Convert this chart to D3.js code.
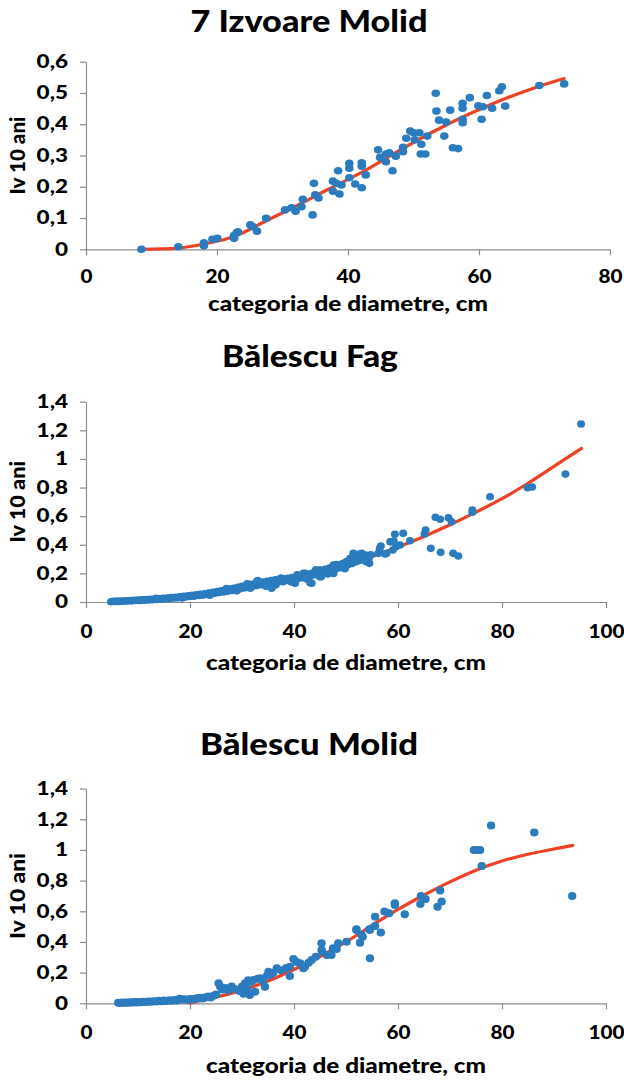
<!DOCTYPE html>
<html>
<head>
<meta charset="utf-8">
<script src="https://cdn.jsdelivr.net/npm/d3@7"></script>
<style>
  body { margin: 0; background: #fff; }
  text { font-family: Lato, "Open Sans", sans-serif; font-weight: 900; fill: #000; }
</style>
</head>
<body>
<svg id="chart" width="624" height="1082"></svg>
<script>
// ---- Tick values ----
const xTicksIzvoare = [0, 20, 40, 60, 80];
const yTicksIzvoare = [0, 0.1, 0.2, 0.3, 0.4, 0.5, 0.6];
const xTicksBalescu = [0, 20, 40, 60, 80, 100];
const yTicksBalescu = [0, 0.2, 0.4, 0.6, 0.8, 1, 1.2, 1.4];

// ---- 7 Izvoare Molid: [diameter class cm, Iv 10 years] ----
const izvoareMolidPoints = [
  [8.45,0.000],[14.1,0.008],[18.0,0.021],[18.0,0.011],[19.3,0.032],[20.05,0.035],[22.6,0.035],[22.6,0.044],
  [23.0,0.053],[23.2,0.056],[25.1,0.078],[25.5,0.072],[26.1,0.058],[27.5,0.099],[30.4,0.126],[31.4,0.133],
  [32.0,0.122],[32.9,0.136],[33.1,0.160],[34.6,0.110],[34.8,0.211],[35.0,0.174],[35.5,0.164],[37.7,0.186],
  [37.7,0.218],[38.2,0.211],[38.5,0.251],[38.7,0.177],[39.0,0.206],[40.2,0.275],[40.2,0.259],[40.2,0.229],
  [41.1,0.209],[42.1,0.277],[42.1,0.197],[42.1,0.266],[42.7,0.238],[44.6,0.318],[44.9,0.294],[45.8,0.305],
  [45.8,0.280],[46.3,0.309],[46.8,0.251],[47.3,0.298],[48.4,0.312],[48.4,0.326],[48.9,0.355],[49.5,0.378],
  [50.0,0.373],[50.2,0.350],[50.9,0.373],[51.2,0.336],[51.1,0.305],[51.8,0.305],[52.1,0.362],[53.4,0.499],
  [53.5,0.442],[53.9,0.413],[54.7,0.362],[55.0,0.407],[55.6,0.445],[56.0,0.325],[56.8,0.322],[57.5,0.467],
  [57.5,0.451],[57.5,0.416],[57.5,0.405],[58.6,0.485],[59.9,0.459],[60.4,0.416],[60.6,0.456],[61.2,0.492],
  [62.0,0.451],[63.1,0.507],[63.5,0.520],[64.0,0.458],[69.2,0.524],[73.0,0.529]
];
const izvoareMolidTrend = [
  [8.5,0.000],[14,0.004],[18,0.017],[22.5,0.040],[27.6,0.092],[32.7,0.145],[37,0.192],[42.8,0.254],
  [48,0.318],[53,0.376],[58,0.428],[63.2,0.475],[68,0.513],[73,0.546]
];

// ---- Bălescu Fag ----
const balescuFagPoints = [
  [4.8,0.002],[5.2,0.005],[5.6,0.003],[6.0,0.006],[6.4,0.004],[6.8,0.007],[7.2,0.005],[7.6,0.009],
  [8.0,0.007],[8.4,0.010],[8.8,0.008],[9.2,0.012],[9.6,0.010],[10.0,0.014],[10.4,0.011],[10.8,0.015],
  [11.2,0.013],[11.6,0.017],[12.0,0.014],[12.4,0.019],[12.8,0.016],[13.2,0.021],[13.6,0.018],[14.0,0.023],
  [14.4,0.020],[14.8,0.026],[15.2,0.022],[15.6,0.028],[16.0,0.025],[16.4,0.031],[16.8,0.027],[17.2,0.033],
  [17.6,0.029],[18.0,0.036],[18.4,0.032],[18.8,0.039],[19.2,0.035],[19.6,0.043],[20.0,0.038],[20.4,0.046],
  [20.8,0.041],[21.2,0.050],[21.6,0.045],[22.0,0.054],[22.4,0.048],[22.8,0.058],[23.2,0.052],[23.6,0.063],
  [24.0,0.057],[24.4,0.068],[24.8,0.061],[25.2,0.073],[25.6,0.066],[26.0,0.079],[26.4,0.070],[26.8,0.085],
  [27.2,0.075],[27.6,0.090],[28.0,0.081],[28.4,0.096],[28.8,0.086],[29.2,0.103],[29.6,0.093],[30.0,0.110],
  [30.4,0.098],[30.8,0.116],[31.2,0.104],[31.6,0.122],[32.0,0.110],[32.4,0.128],[32.8,0.116],[33.2,0.134],
  [33.6,0.121],[34.0,0.139],[34.4,0.126],[34.8,0.145],[35.2,0.130],[35.6,0.150],[36.0,0.136],[36.4,0.155],
  [36.8,0.141],[37.2,0.158],[37.6,0.146],[38.0,0.162],[38.4,0.150],[38.8,0.166],[39.2,0.155],[39.6,0.171],
  [40.0,0.160],[40.4,0.176],[40.8,0.165],[41.2,0.182],[41.6,0.170],[42.0,0.188],[42.4,0.176],[42.8,0.195],
  [43.2,0.183],[43.6,0.203],[44.0,0.190],[44.4,0.211],[44.8,0.197],[45.2,0.219],[45.6,0.205],[46.0,0.228],
  [46.4,0.213],[46.8,0.237],[47.2,0.221],[47.6,0.246],[48.0,0.230],[48.4,0.255],[48.8,0.240],[49.2,0.265],
  [49.6,0.250],[50.0,0.276],[50.4,0.260],[50.8,0.288],[51.2,0.270],[51.6,0.300],[52.0,0.282],[52.4,0.310],
  [52.8,0.292],[53.2,0.318],[53.6,0.300],[54.0,0.322],[54.4,0.305],[54.8,0.330],
  [13.5,0.026],[18.5,0.028],[23.8,0.048],[27.0,0.094],[29.0,0.078],[31.0,0.128],[33.0,0.150],[34.6,0.110],
  [36.5,0.120],[37.5,0.168],[39.5,0.140],[40.6,0.190],[42.5,0.160],[44.2,0.225],[46.5,0.196],[48.2,0.262],
  [49.8,0.232],[51.5,0.318],[53.0,0.340],[54.2,0.290],
  [31.6,0.096],[32.8,0.142],[35.4,0.142],[35.7,0.096],[37.9,0.142],[39.2,0.154],[40.2,0.131],[41.3,0.177],
  [41.8,0.200],[42.1,0.200],[43.1,0.135],[43.4,0.131],[45.0,0.224],[45.0,0.177],[45.2,0.177],[47.6,0.259],
  [47.6,0.200],[48.8,0.247],[49.5,0.270],[50.1,0.282],[50.8,0.305],[51.4,0.340],[52.4,0.333],[53.7,0.328],
  [53.9,0.282],[54.5,0.270],[56.2,0.340],[56.5,0.375],[56.7,0.391],[57.5,0.335],[57.8,0.340],[58.5,0.421],
  [58.6,0.421],[59.0,0.363],[59.2,0.426],[59.4,0.473],[59.6,0.386],[60.4,0.398],[61.0,0.480],[62.3,0.428],
  [65.1,0.475],[65.3,0.503],[66.3,0.375],[67.2,0.592],[68.1,0.578],[68.2,0.347],[69.7,0.589],[70.3,0.561],
  [70.6,0.340],[71.6,0.321],[74.3,0.643],[74.3,0.627],[77.7,0.736],[84.9,0.799],[85.8,0.804],[92.2,0.894],
  [95.2,1.244]
];
const balescuFagTrend = [
  [5,0.004],[10,0.012],[15,0.024],[20,0.041],[25,0.066],[30,0.100],[35,0.134],[40,0.168],[45,0.212],
  [50,0.262],[55,0.318],[60,0.384],[65,0.458],[70,0.540],[75,0.628],[80,0.722],[85,0.830],[90,0.948],[95.3,1.074]
];

// ---- Bălescu Molid ----
const balescuMolidPoints = [
  [6.2,0.004],[6.6,0.002],[7.0,0.005],[7.4,0.003],[7.8,0.006],[8.2,0.004],[8.6,0.007],[9.0,0.005],
  [9.4,0.008],[9.8,0.006],[10.2,0.009],[10.6,0.007],[11.0,0.010],[11.5,0.008],[12.0,0.012],[12.5,0.010],
  [13.0,0.014],[13.5,0.011],[14.0,0.016],[14.5,0.013],[15.0,0.018],[15.5,0.015],[16.0,0.020],[16.5,0.017],
  [17.0,0.022],[17.5,0.019],[18.0,0.030],[18.5,0.024],[19.0,0.026],[19.5,0.022],[20.0,0.028],[20.5,0.025],
  [21.0,0.030],[21.5,0.034],[22.0,0.036],[22.5,0.031],[23.0,0.040],[23.5,0.045],[24.0,0.038],[24.5,0.050],
  [25.0,0.058],[25.5,0.130],[25.8,0.110],[26.2,0.090],[26.8,0.100],[27.3,0.085],[28.0,0.110],[28.5,0.095],
  [29.5,0.080],[30.0,0.110],[30.3,0.062],[30.6,0.130],[31.0,0.095],[31.2,0.150],[31.5,0.054],[31.8,0.140],
  [32.2,0.152],[32.5,0.076],[33.0,0.160],[33.5,0.163],[34.0,0.150],[34.4,0.108],[34.8,0.180],[35.1,0.206],
  [35.4,0.185],[36.0,0.200],[36.7,0.228],[37.5,0.215],[38.5,0.230],[39.2,0.239],[39.2,0.178],[39.9,0.289],
  [40.5,0.270],[41.2,0.261],[41.8,0.228],[42.1,0.239],[42.8,0.265],[43.4,0.283],[44.2,0.304],[45.3,0.391],
  [45.3,0.348],[45.4,0.337],[46.3,0.315],[47.2,0.315],[47.5,0.359],[48.2,0.354],[48.5,0.391],[50.1,0.402],
  [52.0,0.478],[52.0,0.483],[52.7,0.395],[53.0,0.446],[53.2,0.434],[54.5,0.483],[54.6,0.294],[54.6,0.478],
  [55.6,0.504],[55.6,0.565],[56.7,0.461],[57.4,0.598],[58.3,0.587],[59.4,0.652],[59.4,0.641],[61.3,0.581],
  [64.3,0.648],[64.4,0.700],[65.3,0.680],[67.6,0.630],[68.1,0.735],[68.4,0.663],[74.6,1.000],[75.2,1.000],
  [75.8,1.000],[76.1,0.896],[77.9,1.159],[86.2,1.113],[93.5,0.700]
];
const balescuMolidTrend = [
  [20,0.003],[25,0.040],[30,0.085],[35,0.145],[40,0.220],[45,0.305],[50,0.400],[55,0.508],[60,0.612],
  [65,0.706],[70,0.792],[75,0.868],[80,0.928],[85,0.972],[90,1.006],[93.6,1.030]
];

// ---- Panel layout ----
const panels = [
  { title: "7 Izvoare Molid", points: izvoareMolidPoints, trend: izvoareMolidTrend,
    xDomain: [0, 80], yDomain: [0, 0.6], xTicks: xTicksIzvoare, yTicks: yTicksIzvoare,
    left: 86, right: 610, top: 61.7, bottom: 249.3,
    titleX: 309, titleY: 32, titleW: 237,
    yTitleX: 25, yTitleW: 78, xTitleY: 311, xTitleW: 280, xTickPad: 15, rx: 4.3, ry: 3.8 },
  { title: "Bălescu Fag", points: balescuFagPoints, trend: balescuFagTrend,
    xDomain: [0, 100], yDomain: [0, 1.4], xTicks: xTicksBalescu, yTicks: yTicksBalescu,
    left: 86, right: 606, top: 401.7, bottom: 602,
    titleX: 310, titleY: 367, titleW: 176,
    yTitleX: 25, yTitleW: 82, xTitleY: 670, xTitleW: 280, xTickPad: 17, rx: 4.0, ry: 3.8 },
  { title: "Bălescu Molid", points: balescuMolidPoints, trend: balescuMolidTrend,
    xDomain: [0, 100], yDomain: [0, 1.4], xTicks: xTicksBalescu, yTicks: yTicksBalescu,
    left: 86, right: 606, top: 788.6, bottom: 1003.3,
    titleX: 309, titleY: 755, titleW: 218,
    yTitleX: 25, yTitleW: 86, xTitleY: 1073, xTitleW: 280, xTickPad: 17, rx: 4.2, ry: 4.0 }
];

const DOT = "#2B7BBF";
const TREND = "#EF4123";
const AXIS = "#8C8C8C";

const ro = d3.formatLocale({ decimal: ",", thousands: ".", grouping: [3], currency: ["", ""] });
const fmt = ro.format(".1~f");

const svg = d3.select("#chart");

// stretch a text element horizontally to a given length
function fitWidth(sel, w) {
  sel.attr("textLength", w).attr("lengthAdjust", "spacingAndGlyphs");
}
function stretch(sel, k) {
  sel.each(function () {
    const L = this.getComputedTextLength();
    d3.select(this).attr("textLength", L * k).attr("lengthAdjust", "spacingAndGlyphs");
  });
}

panels.forEach(p => {
  const g = svg.append("g");
  const x = d3.scaleLinear().domain(p.xDomain).range([p.left, p.right]);
  const y = d3.scaleLinear().domain(p.yDomain).range([p.bottom, p.top]);

  // axes
  const xAxis = g.append("g").attr("transform", `translate(0,${p.bottom})`)
    .call(d3.axisBottom(x).tickValues(p.xTicks).tickSizeInner(6).tickSizeOuter(0)
      .tickPadding(p.xTickPad).tickFormat(fmt));
  const yAxis = g.append("g").attr("transform", `translate(${p.left},0)`)
    .call(d3.axisLeft(y).tickValues(p.yTicks).tickSizeInner(6).tickSizeOuter(0)
      .tickPadding(12).tickFormat(fmt));
  [xAxis, yAxis].forEach(a => {
    a.select(".domain").attr("stroke", AXIS).attr("stroke-width", 1.2);
    a.selectAll(".tick line").attr("stroke", AXIS).attr("stroke-width", 1.2);
    a.selectAll(".tick text").attr("font-family", "Lato, sans-serif")
      .attr("font-weight", 900).attr("font-size", 18).attr("fill", "#000");
  });
  stretch(xAxis.selectAll(".tick text"), 1.15);
  stretch(yAxis.selectAll(".tick text"), 1.25);

  // fitted trend line
  const line = d3.line().x(d => x(d[0])).y(d => y(d[1])).curve(d3.curveCatmullRom);
  g.append("path").datum(p.trend).attr("d", line)
    .attr("fill", "none").attr("stroke", TREND).attr("stroke-width", 3.2)
    .attr("stroke-linecap", "round");

  // observations
  g.append("g").selectAll("ellipse").data(p.points).join("ellipse")
    .attr("cx", d => x(d[0])).attr("cy", d => y(d[1]))
    .attr("rx", p.rx).attr("ry", p.ry).attr("fill", DOT);

  // titles
  const t = g.append("text").attr("x", p.titleX).attr("y", p.titleY)
    .attr("text-anchor", "middle").attr("font-size", 30).text(p.title);
  fitWidth(t, p.titleW);

  const yt = g.append("text")
    .attr("transform", `translate(${p.yTitleX},${(p.top + p.bottom) / 2}) rotate(-90)`)
    .attr("text-anchor", "middle").attr("font-size", 20).text("Iv 10 ani");
  fitWidth(yt, p.yTitleW);

  const xt = g.append("text").attr("x", (p.left + p.right) / 2).attr("y", p.xTitleY)
    .attr("text-anchor", "middle").attr("font-size", 20).text("categoria de diametre, cm");
  fitWidth(xt, p.xTitleW);
});
</script>
</body>
</html>
